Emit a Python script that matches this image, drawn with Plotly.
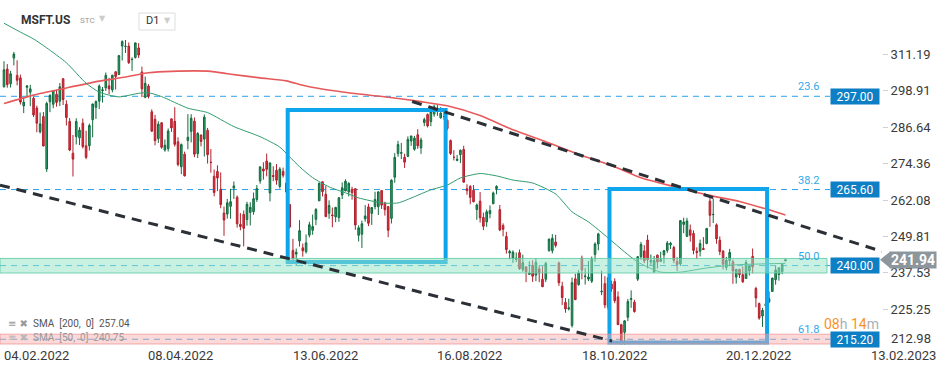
import plotly.graph_objects as go

# ---------------- data ----------------
dates = [
    # 2022-02
    "2022-02-04","2022-02-07","2022-02-08","2022-02-09","2022-02-10","2022-02-11","2022-02-14","2022-02-15",
    "2022-02-16","2022-02-17","2022-02-18","2022-02-22","2022-02-23","2022-02-24","2022-02-25","2022-02-28",
    # 2022-03
    "2022-03-01","2022-03-02","2022-03-03","2022-03-04","2022-03-07","2022-03-08","2022-03-09","2022-03-10",
    "2022-03-11","2022-03-14","2022-03-15","2022-03-16","2022-03-17","2022-03-18","2022-03-21","2022-03-22",
    "2022-03-23","2022-03-24","2022-03-25","2022-03-28","2022-03-29","2022-03-30","2022-03-31",
    # 2022-04
    "2022-04-01","2022-04-04","2022-04-05","2022-04-06","2022-04-07","2022-04-08","2022-04-11","2022-04-12",
    "2022-04-13","2022-04-14","2022-04-18","2022-04-19","2022-04-20","2022-04-21","2022-04-22","2022-04-25",
    "2022-04-26","2022-04-27","2022-04-28","2022-04-29",
    # 2022-05
    "2022-05-02","2022-05-03","2022-05-04","2022-05-05","2022-05-06","2022-05-09","2022-05-10","2022-05-11",
    "2022-05-12","2022-05-13","2022-05-16","2022-05-17","2022-05-18","2022-05-19","2022-05-20","2022-05-23",
    "2022-05-24","2022-05-25","2022-05-26","2022-05-27","2022-05-31",
    # 2022-06
    "2022-06-01","2022-06-02","2022-06-03","2022-06-06","2022-06-07","2022-06-08","2022-06-09","2022-06-10",
    "2022-06-13","2022-06-14","2022-06-15","2022-06-16","2022-06-17","2022-06-21","2022-06-22","2022-06-23",
    "2022-06-24","2022-06-27","2022-06-28","2022-06-29","2022-06-30",
    # 2022-07
    "2022-07-01","2022-07-05","2022-07-06","2022-07-07","2022-07-08","2022-07-11","2022-07-12","2022-07-13",
    "2022-07-14","2022-07-15","2022-07-18","2022-07-19","2022-07-20","2022-07-21","2022-07-22","2022-07-25",
    "2022-07-26","2022-07-27","2022-07-28","2022-07-29",
    # 2022-08
    "2022-08-01","2022-08-02","2022-08-03","2022-08-04","2022-08-05","2022-08-08","2022-08-09","2022-08-10",
    "2022-08-11","2022-08-12","2022-08-15","2022-08-16","2022-08-17","2022-08-18","2022-08-19","2022-08-22",
    "2022-08-23","2022-08-24","2022-08-25","2022-08-26","2022-08-29","2022-08-30","2022-08-31",
    # 2022-09
    "2022-09-01","2022-09-02","2022-09-06","2022-09-07","2022-09-08","2022-09-09","2022-09-12","2022-09-13",
    "2022-09-14","2022-09-15","2022-09-16","2022-09-19","2022-09-20","2022-09-21","2022-09-22","2022-09-23",
    "2022-09-26","2022-09-27","2022-09-28","2022-09-29","2022-09-30",
    # 2022-10
    "2022-10-03","2022-10-04","2022-10-05","2022-10-06","2022-10-07","2022-10-10","2022-10-11","2022-10-12",
    "2022-10-13","2022-10-14","2022-10-17","2022-10-18","2022-10-19","2022-10-20","2022-10-21","2022-10-24",
    "2022-10-25","2022-10-26","2022-10-27","2022-10-28","2022-10-31",
    # 2022-11
    "2022-11-01","2022-11-02","2022-11-03","2022-11-04","2022-11-07","2022-11-08","2022-11-09","2022-11-10",
    "2022-11-11","2022-11-14","2022-11-15","2022-11-16","2022-11-17","2022-11-18","2022-11-21","2022-11-22",
    "2022-11-23","2022-11-25","2022-11-28","2022-11-29","2022-11-30",
    # 2022-12
    "2022-12-01","2022-12-02","2022-12-05","2022-12-06","2022-12-07","2022-12-08","2022-12-09","2022-12-12",
    "2022-12-13","2022-12-14","2022-12-15","2022-12-16","2022-12-19","2022-12-20","2022-12-21","2022-12-22",
    "2022-12-23","2022-12-27","2022-12-28","2022-12-29","2022-12-30",
    # 2023-01
    "2023-01-03","2023-01-04","2023-01-05","2023-01-06","2023-01-09","2023-01-10","2023-01-11","2023-01-12",
    "2023-01-13","2023-01-17","2023-01-18",
]

opens = [
    300.21, 306.17, 301.25, 309.87, 304.04, 303.19, 293.77, 300.01, 298.37, 296.36, 293.05, 285.00, 290.18, 272.51, 295.14, 294.31,
    297.68, 295.36, 302.89, 294.29, 288.53, 277.80, 283.44, 283.02, 287.96, 280.34, 280.35, 289.11, 293.29, 295.37, 298.89, 299.80, 300.51, 299.14, 305.23, 304.33, 313.91, 313.76, 313.90,
    309.37, 310.09, 313.27, 305.19, 296.66, 300.44, 291.79, 289.24, 282.73, 288.09, 278.91, 279.38, 289.40, 288.58, 281.68, 273.29, 277.50, 282.10, 285.19, 288.61,
    277.71, 283.96, 282.59, 285.54, 274.81, 270.06, 271.69, 265.68, 257.69, 257.35, 259.96, 266.11, 263.00, 253.90, 257.24, 255.49, 257.89, 258.14, 262.27, 268.48, 272.53,
    275.20, 264.45, 270.31, 272.06, 266.64, 271.71, 267.78, 260.58, 245.11, 243.86, 248.31, 245.98, 244.70, 250.26, 251.89, 255.57, 261.81, 268.21, 263.98, 257.59, 257.05,
    256.39, 256.16, 263.75, 265.12, 264.79, 265.65, 265.88, 250.19, 250.57, 255.72, 259.75, 257.58, 259.90, 259.79, 265.24, 261.00, 259.86, 255.89, 269.75, 277.70,
    277.82, 276.48, 276.76, 281.94, 279.15, 284.05, 279.64, 288.17, 290.85, 288.48, 291.00, 291.99, 289.74, 290.19, 288.90, 282.08, 276.44, 275.41, 277.33, 279.08, 265.85, 266.67, 265.39,
    258.87, 261.70, 256.20, 254.70, 257.47, 260.84, 265.95, 258.84, 253.53, 249.77, 244.26, 242.47, 242.07, 244.36, 238.63, 239.54, 237.05, 239.98, 236.81, 238.89, 235.41,
    235.41, 245.09, 245.01, 247.93, 240.90, 233.05, 227.62, 225.40, 219.85, 235.54, 233.60, 242.46, 236.28, 235.44, 234.74, 243.76, 247.26, 231.17, 233.92, 225.96, 233.76,
    234.60, 229.46, 220.10, 217.55, 222.60, 228.61, 227.69, 235.43, 242.99, 244.93, 248.59, 241.25, 237.80, 243.51, 241.43, 243.59, 245.11, 246.99, 246.08, 241.40, 240.57,
    253.87, 249.82, 252.01, 250.82, 244.83, 244.84, 245.77, 247.44, 261.69, 257.13, 253.72, 248.55, 244.86, 239.40, 241.69, 241.26, 236.11, 238.70, 236.89, 235.65, 238.21,
    243.08, 232.28, 227.20, 223.00, 226.45, 227.76, 231.29, 235.26, 237.00, 237.97, 241.57,
]

highs = [
    308.80, 307.84, 305.56, 311.93, 309.12, 304.29, 296.76, 300.80, 300.87, 296.80, 293.86, 291.54, 291.70, 295.16, 297.63, 299.14,
    299.23, 301.47, 303.13, 295.66, 289.69, 283.96, 289.60, 286.60, 289.51, 285.40, 287.82, 294.57, 295.61, 301.00, 300.14, 305.00, 303.23, 304.20, 305.50, 310.80, 315.82, 315.95, 315.14,
    310.13, 315.11, 314.87, 307.00, 303.65, 301.12, 292.61, 290.74, 288.58, 288.31, 282.46, 286.17, 289.50, 293.30, 283.20, 281.11, 278.36, 290.97, 290.98, 289.88,
    284.94, 284.13, 290.88, 286.35, 279.25, 272.36, 273.75, 271.36, 259.88, 262.45, 265.82, 268.33, 263.60, 257.67, 258.54, 261.50, 261.33, 264.58, 267.11, 273.34, 274.77,
    277.69, 274.65, 273.45, 274.18, 273.13, 273.00, 272.71, 260.58, 249.02, 245.74, 255.30, 247.42, 250.50, 254.75, 257.17, 259.37, 267.98, 268.30, 266.91, 261.97, 259.53,
    259.77, 262.98, 267.99, 269.06, 268.10, 266.53, 265.94, 253.55, 255.14, 260.37, 260.84, 259.72, 264.87, 264.89, 265.33, 261.50, 259.88, 269.06, 277.84, 282.00,
    281.28, 277.65, 283.50, 283.65, 283.65, 285.92, 283.08, 289.81, 291.21, 291.91, 294.18, 294.04, 293.35, 291.91, 289.25, 282.46, 278.86, 277.23, 279.02, 280.34, 267.40, 267.05, 267.11,
    260.89, 264.74, 257.83, 258.83, 260.26, 264.89, 267.04, 260.40, 254.23, 251.40, 245.30, 245.14, 244.40, 245.38, 243.67, 239.86, 241.45, 241.80, 242.50, 239.95, 239.76,
    241.30, 249.14, 250.58, 250.35, 241.32, 234.56, 229.06, 228.86, 236.00, 237.24, 238.49, 243.35, 239.25, 241.54, 243.04, 247.84, 251.04, 238.30, 236.45, 236.12, 234.92,
    235.74, 231.30, 220.41, 221.59, 228.81, 231.65, 228.51, 243.18, 247.99, 246.85, 250.34, 243.73, 243.25, 243.74, 244.67, 245.27, 248.28, 248.00, 246.65, 242.79, 255.33,
    256.12, 256.06, 253.82, 251.86, 246.16, 248.74, 249.58, 252.54, 263.92, 262.59, 254.20, 249.84, 245.21, 242.91, 245.62, 241.99, 238.87, 238.93, 239.72, 241.92, 239.96,
    245.75, 232.87, 227.55, 225.76, 231.24, 231.31, 235.95, 239.90, 239.37, 240.91, 242.38,
]

lows = [
    299.97, 299.90, 299.95, 307.39, 300.70, 294.22, 291.35, 297.02, 293.68, 290.00, 284.89, 284.50, 280.10, 271.52, 291.65, 293.00,
    293.50, 293.70, 294.05, 287.17, 278.53, 270.00, 280.78, 280.58, 279.43, 275.82, 278.73, 283.20, 289.37, 292.73, 294.90, 298.77, 297.72, 298.32, 299.29, 304.33, 309.05, 311.58, 307.89,
    305.54, 309.71, 309.87, 296.71, 296.35, 296.28, 285.00, 280.49, 281.30, 279.32, 278.34, 278.41, 285.01, 280.06, 273.38, 270.77, 270.00, 279.16, 281.46, 276.50,
    276.22, 280.15, 276.73, 274.34, 271.27, 263.32, 265.07, 259.30, 250.02, 255.82, 255.78, 262.46, 252.77, 251.88, 246.44, 253.43, 253.50, 257.13, 261.43, 267.56, 268.93,
    270.04, 261.60, 268.41, 267.22, 265.94, 269.61, 264.63, 252.53, 241.53, 239.87, 246.42, 243.02, 244.03, 249.51, 250.37, 253.63, 261.72, 263.28, 256.32, 255.76, 252.90,
    254.61, 254.74, 262.40, 265.02, 263.29, 262.18, 252.04, 248.11, 245.94, 254.77, 253.30, 253.68, 258.91, 257.03, 259.07, 256.81, 249.57, 254.18, 267.87, 276.63,
    275.84, 272.89, 276.61, 280.30, 278.68, 279.32, 277.61, 286.94, 286.51, 286.94, 290.11, 290.42, 289.47, 289.08, 285.56, 277.22, 275.40, 275.11, 274.52, 267.98, 263.85, 260.66, 261.33,
    255.41, 254.47, 251.94, 253.07, 255.94, 260.66, 264.00, 251.59, 249.86, 244.02, 242.06, 240.85, 241.19, 238.56, 237.92, 234.42, 236.90, 234.50, 234.73, 234.41, 232.73,
    234.45, 244.63, 244.10, 246.08, 233.17, 226.73, 224.11, 224.90, 219.13, 228.34, 233.23, 235.38, 233.61, 234.76, 234.12, 241.30, 245.14, 230.06, 225.64, 225.08, 231.15,
    227.33, 220.04, 213.43, 213.43, 221.28, 225.76, 224.17, 234.80, 241.93, 240.82, 239.04, 240.15, 237.63, 239.03, 241.19, 240.71, 244.27, 245.61, 240.80, 238.21, 239.86,
    250.91, 249.69, 248.06, 243.78, 242.21, 243.06, 245.30, 247.17, 253.07, 254.31, 247.34, 243.51, 238.71, 238.42, 240.11, 233.87, 233.94, 235.83, 234.17, 235.65, 236.66,
    237.40, 225.96, 221.76, 219.35, 226.41, 227.33, 231.11, 233.56, 234.92, 237.09, 241.50,
]

closes = [
    305.94, 300.95, 304.56, 311.21, 302.38, 295.04, 295.00, 300.47, 299.50, 290.73, 287.93, 287.72, 280.27, 294.59, 297.31, 298.79,
    294.95, 300.19, 295.92, 289.86, 278.91, 275.85, 288.50, 285.59, 280.07, 276.44, 287.15, 294.39, 295.22, 300.43, 299.16, 304.06, 299.49, 304.10, 303.68, 310.70, 315.41, 313.86, 308.31,
    309.42, 314.97, 310.88, 299.50, 301.37, 296.97, 285.26, 282.06, 287.62, 279.83, 280.52, 285.30, 286.36, 280.81, 274.03, 280.72, 270.22, 283.22, 289.63, 277.52,
    284.47, 281.78, 289.98, 277.35, 274.73, 264.58, 269.50, 260.55, 255.35, 261.12, 261.50, 266.82, 254.08, 253.14, 252.56, 260.65, 259.62, 262.52, 265.90, 273.24, 271.87,
    272.42, 274.58, 270.02, 268.75, 272.50, 270.41, 264.79, 252.99, 242.26, 244.49, 251.76, 244.97, 247.65, 253.74, 253.13, 258.86, 267.70, 264.89, 256.48, 260.26, 256.83,
    259.58, 262.85, 266.21, 268.40, 267.66, 264.51, 253.67, 252.72, 254.08, 256.72, 254.25, 259.53, 262.27, 264.84, 260.36, 258.83, 251.90, 268.74, 276.41, 280.74,
    278.01, 274.82, 282.47, 283.65, 282.91, 280.32, 282.30, 289.16, 287.02, 291.91, 293.47, 292.71, 291.32, 290.17, 286.15, 277.75, 276.44, 275.79, 278.85, 268.09, 265.23, 262.97, 261.47,
    260.40, 256.06, 253.25, 258.09, 258.52, 264.46, 266.65, 251.99, 252.22, 245.38, 244.74, 244.52, 242.45, 238.95, 240.98, 237.92, 237.45, 236.41, 241.07, 237.50, 232.90,
    240.74, 248.88, 249.20, 246.79, 234.24, 229.25, 225.41, 225.75, 234.24, 228.56, 237.53, 238.50, 236.48, 236.15, 242.12, 247.25, 250.66, 231.32, 226.75, 235.87, 232.13,
    228.17, 220.10, 214.25, 221.39, 227.87, 228.87, 224.51, 242.98, 247.11, 241.55, 241.97, 241.73, 241.68, 241.22, 242.05, 245.03, 247.58, 247.49, 241.76, 240.33, 255.14,
    254.69, 255.02, 250.20, 245.12, 244.37, 247.40, 245.42, 252.51, 256.92, 257.22, 249.01, 244.69, 240.45, 241.80, 244.43, 238.19, 238.73, 236.96, 234.53, 241.01, 239.82,
    239.58, 229.10, 222.31, 224.93, 227.12, 228.85, 235.77, 238.51, 239.23, 240.35, 241.94,
]

# moving averages (bar index, value)
sma200_idx = [0, 9, 19, 29, 37, 44, 51, 63, 68, 78, 86, 91, 96, 106, 117, 127, 135, 145, 155, 165, 175, 186, 194, 204, 214, 224, 232, 238]
sma200_val = [294.6, 297.4, 299.8, 302.1, 303.5, 304.9, 305.4, 305.4, 304.6, 303.2, 302.2, 300.7, 299.6, 298.0, 296.7, 295.2, 293.8,
              290.5, 285.7, 281.7, 277.5, 273.3, 269.6, 266.6, 263.8, 261.6, 259.1, 257.04]
sma50_idx = [0, 5, 9, 13, 19, 25, 29, 35, 41, 44, 48, 56, 62, 70, 78, 84, 87, 90, 94, 99, 104, 108, 115, 120, 125, 130, 135, 139,
             145, 150, 155, 161, 168, 173, 178, 184, 189, 193, 200, 206, 214, 222, 229, 238]
sma50_val = [321.6, 318.6, 316.3, 313.3, 308.3, 301.4, 298.4, 296.8, 298.0, 298.2, 296.9, 293.0, 291.5, 286.8, 283.4, 279.9, 276.6,
             273.3, 269.6, 266.5, 264.5, 262.8, 261.1, 261.1, 263.2, 265.5, 267.1, 269.5, 271.0, 270.2, 268.8, 267.8, 264.1, 258.1,
             254.7, 249.3, 244.6, 241.2, 237.8, 237.8, 239.2, 240.2, 240.5, 240.75]

# drawing tools
fib_levels = [297.00, 265.60, 240.00, 215.20]
fib_labels = ["23.6", "38.2", "50.0", "61.8"]
band_240 = (237.5, 242.4)
band_215 = (213.6, 216.9)
box1 = dict(i0=86.4, i1=134.5, p0=241.2, p1=292.4)
box2 = dict(i0=184.4, i1=232.4, p0=214.1, p1=265.8)
trend_upper = dict(i0=124.3, p0=295.25, i1=267.4, p1=244.75)
trend_lower = dict(i0=-1.22, p0=267.1, i1=185.2, p1=214.6)

ytick_vals = [311.19, 298.91, 286.64, 274.36, 262.08, 249.81, 237.53, 225.25]
ytick_text = ["311.19", "298.91", "286.64", "274.36", "262.08", "249.81", "237.53", "225.25"]
xtick_idx = [0, 44, 88, 132, 176, 220, 264]
xtick_text = ["04.02.2022", "08.04.2022", "13.06.2022", "16.08.2022", "18.10.2022", "20.12.2022", "13.02.2023"]
last_price = 241.94
sma200_last = 257.04
sma50_last = 240.75

# ---------------- figure ----------------
FONT = "Roboto, 'Open Sans', sans-serif"
W, H = 949, 370
PW, PH = 882, 345          # plot area size in px
XR = [-1.22, 267.4]
YR = [213.26, 329.42]

def px(x):   # paper x from pixel
    return x / PW

def py(y):   # paper y from pixel (top = 0)
    return (PH - y) / PH

idx = list(range(len(closes)))

fig = go.Figure()
fig.add_trace(go.Candlestick(
    x=idx, open=opens, high=highs, low=lows, close=closes, text=dates,
    increasing=dict(line=dict(color="#116a3e", width=1), fillcolor="#2aa06a"),
    decreasing=dict(line=dict(color="#b01f2b", width=1), fillcolor="#e3323f"),
    whiskerwidth=0, hoverinfo="skip", showlegend=False,
))
fig.add_trace(go.Scatter(x=sma200_idx, y=sma200_val, mode="lines", line=dict(color="#e65a5c", width=1.6, shape="spline", smoothing=0.6),
                         hoverinfo="skip", showlegend=False))
fig.add_trace(go.Scatter(x=sma50_idx, y=sma50_val, mode="lines", line=dict(color="#2f9c6d", width=1, shape="spline", smoothing=0.6),
                         hoverinfo="skip", showlegend=False))

shapes = []
# fib dashed lines
for lv in fib_levels:
    shapes.append(dict(type="line", xref="paper", yref="y", x0=0, x1=px(830), y0=lv, y1=lv,
                       line=dict(color="#2aa3ea", width=1, dash="6px,5px"), layer="below"))
# blue boxes
for b in (box1, box2):
    shapes.append(dict(type="rect", xref="x", yref="y", x0=b["i0"], x1=b["i1"], y0=b["p0"], y1=b["p1"],
                       line=dict(color="#0ea5ec", width=4), fillcolor="rgba(0,0,0,0)", layer="above"))
# bands
shapes.append(dict(type="rect", xref="paper", yref="y", x0=0, x1=px(827), y0=band_240[0], y1=band_240[1],
                   line=dict(color="rgba(95,205,165,0.85)", width=1), fillcolor="rgba(150,228,198,0.52)", layer="above"))
shapes.append(dict(type="rect", xref="paper", yref="y", x0=0, x1=px(843), y0=band_215[0], y1=band_215[1],
                   line=dict(color="rgba(240,140,140,0.7)", width=1), fillcolor="rgba(248,170,170,0.45)", layer="above"))
# trend lines
for t in (trend_upper, trend_lower):
    shapes.append(dict(type="line", xref="x", yref="y", x0=t["i0"], y0=t["p0"], x1=t["i1"], y1=t["p1"],
                       line=dict(color="#2b2f36", width=3, dash="10px,7px"), layer="above"))
# current price pointer
shapes.append(dict(type="path", xref="paper", yref="y",
                   path=f"M {px(880)},{last_price} L {px(890)},{last_price + 2.75} L {px(890)},{last_price - 2.75} Z",
                   fillcolor="#8c969c", line=dict(width=0), layer="above"))
# D1 box
shapes.append(dict(type="rect", xref="paper", yref="paper", x0=px(139), x1=px(175), y0=py(30), y1=py(13),
                   line=dict(color="#dddddd", width=1), fillcolor="white", layer="above"))

ann = []
# fib labels and price boxes
for lv, lab in zip(fib_levels, fib_labels):
    ann.append(dict(xref="paper", yref="y", x=px(821), y=lv, xanchor="right", yanchor="bottom", yshift=1,
                    text=lab, showarrow=False, font=dict(family=FONT, size=11, color="#2ea8ea")))
    ann.append(dict(xref="paper", yref="y", x=px(880), y=lv, xanchor="right", yanchor="middle",
                    text=f"{lv:.2f}", showarrow=False, bgcolor="#0d7fc4", width=46, height=13, borderpad=1,
                    font=dict(family=FONT, size=12, color="white")))
# last price box
ann.append(dict(xref="paper", yref="y", x=px(889), y=last_price, xanchor="left", yanchor="middle",
                text=f"<b>{last_price:.2f}</b>", showarrow=False, bgcolor="#8c969c", width=44, height=14, borderpad=1,
                font=dict(family=FONT, size=14, color="white")))
# lowest axis label (shifted up like the original)
ann.append(dict(xref="paper", yref="paper", x=px(889), y=py(338), xanchor="left", yanchor="middle",
                text="212.98", showarrow=False, font=dict(family=FONT, size=13, color="#3a3a3a")))
# countdown
ann.append(dict(xref="paper", yref="paper", x=px(881), y=py(324), xanchor="right", yanchor="middle",
                text='<span style="color:#f7931e">08</span><span style="color:#aab0b5">h</span> '
                     '<span style="color:#f7931e">14</span><span style="color:#aab0b5">m</span>',
                showarrow=False, font=dict(family=FONT, size=14)))
# date labels
for i, t in zip(xtick_idx, xtick_text):
    ann.append(dict(xref="x", yref="paper", x=i, y=0, xanchor="left", yanchor="top", xshift=-2, yshift=-1,
                    text=t, showarrow=False, font=dict(family=FONT, size=13, color="#3a3a3a")))
# indicator legend
ann.append(dict(xref="paper", yref="paper", x=px(6), y=py(323), xanchor="left", yanchor="middle",
                text="≡ ✖", showarrow=False, font=dict(family="DejaVu Sans", size=10, color="#9a9a9a")))
ann.append(dict(xref="paper", yref="paper", x=px(31), y=py(323), xanchor="left", yanchor="middle",
                text=f"SMA  [200,  0]  {sma200_last:.2f}", showarrow=False, font=dict(family=FONT, size=10, color="#555555")))
ann.append(dict(xref="paper", yref="paper", x=px(6), y=py(337), xanchor="left", yanchor="middle",
                text="≡ ✖", showarrow=False, font=dict(family="DejaVu Sans", size=10, color="#b8b8b8")))
ann.append(dict(xref="paper", yref="paper", x=px(31), y=py(337), xanchor="left", yanchor="middle",
                text=f"SMA  [50,  0]  {sma50_last:.2f}", showarrow=False, font=dict(family=FONT, size=10, color="#9a9a9a")))
# header
ann.append(dict(xref="paper", yref="paper", x=px(19), y=py(20), xanchor="left", yanchor="middle",
                text="<b>MSFT.US</b>", showarrow=False, font=dict(family=FONT, size=12, color="#333333")))
ann.append(dict(xref="paper", yref="paper", x=px(78), y=py(21), xanchor="left", yanchor="middle",
                text="STC", showarrow=False, font=dict(family=FONT, size=8, color="#9a9a9a")))
ann.append(dict(xref="paper", yref="paper", x=px(97), y=py(19), xanchor="left", yanchor="middle",
                text="▼", showarrow=False, font=dict(family="DejaVu Sans", size=8, color="#cccccc")))
ann.append(dict(xref="paper", yref="paper", x=px(144), y=py(21), xanchor="left", yanchor="middle",
                text="D1", showarrow=False, font=dict(family=FONT, size=11, color="#333333")))
ann.append(dict(xref="paper", yref="paper", x=px(162), y=py(21), xanchor="left", yanchor="middle",
                text="▼", showarrow=False, font=dict(family="DejaVu Sans", size=8, color="#cccccc")))

fig.update_layout(
    width=W, height=H,
    margin=dict(l=0, r=W - PW, t=0, b=H - PH),
    paper_bgcolor="white", plot_bgcolor="white",
    font=dict(family=FONT, size=13, color="#3a3a3a"),
    shapes=shapes, annotations=ann, showlegend=False, hovermode=False,
    xaxis=dict(range=XR, showgrid=False, zeroline=False, showticklabels=False, ticks="",
               rangeslider=dict(visible=False), showline=False, fixedrange=True),
    yaxis=dict(range=YR, side="right", showgrid=False, zeroline=False, showline=False,
               tickvals=ytick_vals, ticktext=ytick_text, ticks="outside", ticklen=5, tickcolor="#d0d0d0",
               tickfont=dict(family=FONT, size=13, color="#3a3a3a"), fixedrange=True),
)

fig.write_html("out.html")
